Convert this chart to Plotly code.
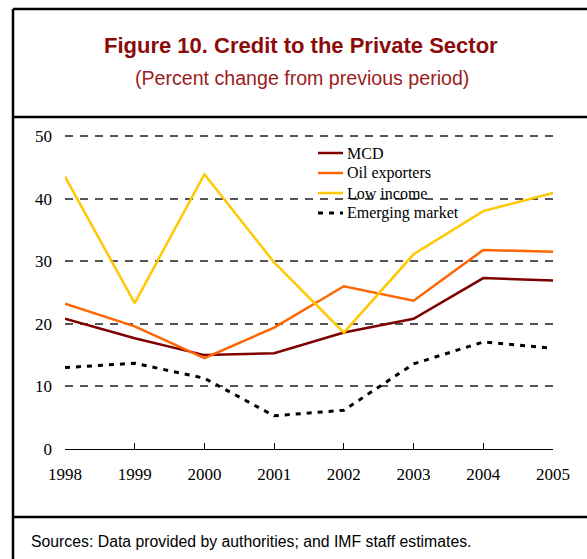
import plotly.graph_objects as go

W, H = 587, 559

years = [1998, 1999, 2000, 2001, 2002, 2003, 2004, 2005]
mcd = [20.8, 17.7, 15.0, 15.3, 18.6, 20.8, 27.3, 26.9]
oil_exporters = [23.2, 19.6, 14.5, 19.4, 26.0, 23.7, 31.8, 31.5]
low_income = [43.5, 23.3, 43.9, 29.8, 18.6, 31.1, 38.0, 40.9]
emerging_market = [13.0, 13.7, 11.3, 5.3, 6.2, 13.6, 17.1, 16.1]
y_ticks = [0, 10, 20, 30, 40, 50]

series = [
    ("MCD", mcd, "#7f0000", "solid", 2.5),
    ("Oil exporters", oil_exporters, "#ff6600", "solid", 2.5),
    ("Low income", low_income, "#ffc800", "solid", 2.5),
    ("Emerging market", emerging_market, "#000000", "5px,6px", 3),
]

# plot area in pixels; the top edge sits a few pixels above the 50 line
# so that its grid line is not clipped away
L, R, T, B = 65, 553, 128, 449
Y50 = 136
Y_MAX = 50 * (B - T) / (B - Y50)


def px_x(x):
    return (x - L) / (R - L)


def px_y(y):
    return (B - y) / (B - T)


fig = go.Figure()
for name, vals, color, dash, width in series:
    fig.add_trace(go.Scatter(x=years, y=vals, mode="lines", name=name,
                             line=dict(color=color, width=width, dash=dash)))

shapes = []
# frame lines around the figure panel
for (x0, y0, x1, y1) in [(13, 9, 587, 9), (13, 117, 587, 117), (13, 517, 587, 517), (13, 9, 13, 559)]:
    shapes.append(dict(type="line", xref="paper", yref="paper",
                       x0=px_x(x0), y0=px_y(y0), x1=px_x(x1), y1=px_y(y1),
                       line=dict(color="black", width=2.5)))

annotations = [
    dict(text="<b>Figure 10. Credit to the Private Sector</b>", xref="paper", yref="paper",
         x=px_x(301), y=px_y(45), xanchor="center", yanchor="middle", showarrow=False,
         font=dict(family="Liberation Sans, Arial", size=22, color="#8b0a0a")),
    dict(text="(Percent change from previous period)", xref="paper", yref="paper",
         x=px_x(302), y=px_y(78), xanchor="center", yanchor="middle", showarrow=False,
         font=dict(family="Liberation Sans, Arial", size=19.6, color="#9b1c1c")),
    dict(text="Sources: Data provided by authorities; and IMF staff estimates.", xref="paper", yref="paper",
         x=px_x(29), y=px_y(541), xanchor="left", yanchor="middle", showarrow=False,
         font=dict(family="Liberation Sans, Arial", size=15.8, color="black")),
]

# legend drawn as sample lines with labels
for i, (name, vals, color, dash, width) in enumerate(series):
    ly = 153 + 20 * i
    shapes.append(dict(type="line", xref="paper", yref="paper",
                       x0=px_x(318), x1=px_x(343), y0=px_y(ly), y1=px_y(ly),
                       line=dict(color=color, width=width, dash=dash)))
    annotations.append(dict(text=name, xref="paper", yref="paper",
                            x=px_x(345), y=px_y(ly), xanchor="left", yanchor="middle",
                            showarrow=False,
                            font=dict(family="Liberation Serif, Times New Roman, serif",
                                      size=16, color="black")))

fig.update_layout(
    width=W, height=H,
    margin=dict(l=L, r=W - R, t=T, b=H - B, pad=0),
    paper_bgcolor="white", plot_bgcolor="white",
    font=dict(family="Liberation Serif, Times New Roman, serif", size=17, color="black"),
    showlegend=False,
    shapes=shapes,
    annotations=annotations,
)

fig.update_xaxes(range=[1998, 2005], tickvals=years, ticktext=[str(y) for y in years],
                 showgrid=False, showline=True, linecolor="black", linewidth=1.2,
                 ticks="inside", ticklen=6, tickcolor="black", zeroline=False,
                 tickfont=dict(size=17), ticklabelstandoff=9)
fig.update_yaxes(range=[0, Y_MAX], tickvals=y_ticks, showgrid=True, gridcolor="#555555",
                 griddash="8px,7px", gridwidth=1.5, zeroline=False, showline=False,
                 ticks="", tickfont=dict(size=17), ticklabelstandoff=12)

fig.write_html("out.html")
